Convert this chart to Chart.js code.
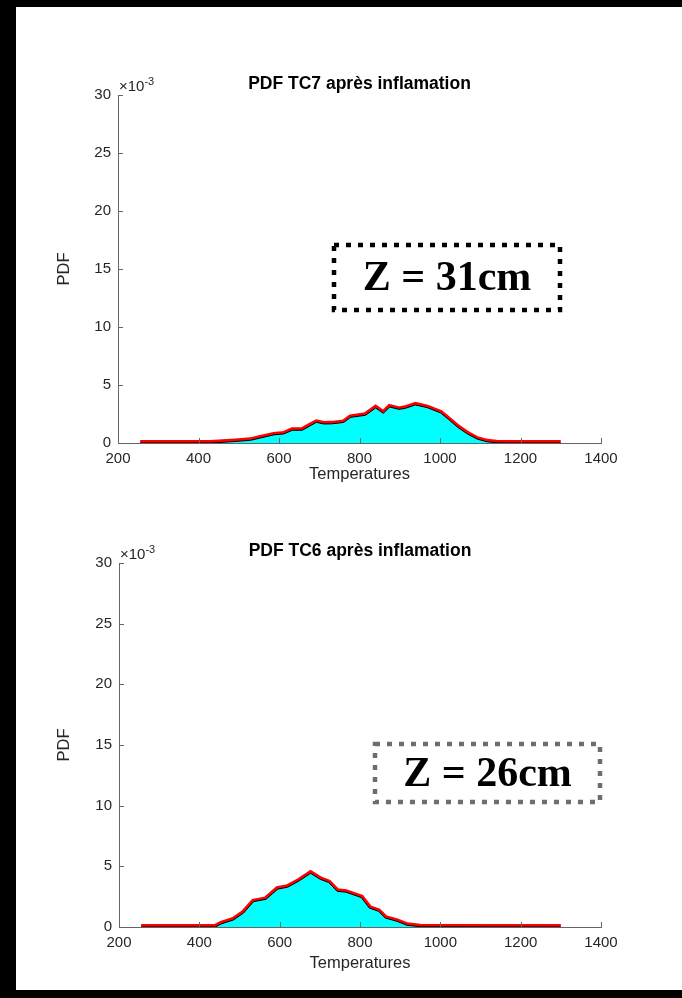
<!DOCTYPE html>
<html>
<head>
<meta charset="utf-8">
<script src="https://cdn.jsdelivr.net/npm/chart.js@4"></script>
<style>
  html, body { margin: 0; padding: 0; background: #fff; }
  #page { position: relative; width: 682px; height: 998px; overflow: hidden; background: #fff; }
  #page canvas { position: absolute; left: 0; }
  .edge { position: absolute; background: #000; }
</style>
</head>
<body>
<div id="page">
  <canvas id="tc7" width="682" height="498" style="top:0"></canvas>
  <canvas id="tc6" width="682" height="500" style="top:498px"></canvas>
  <div class="edge" style="left:0;top:0;width:682px;height:7px"></div>
  <div class="edge" style="left:0;top:0;width:16px;height:998px"></div>
  <div class="edge" style="left:0;top:990px;width:682px;height:8px"></div>
</div>
<script>
// PDF values are in units of 1e-3 (see the x10^-3 note on the axis)
const tempsTC7 = [255, 430, 470, 500, 529, 554, 587, 612, 633, 658, 678, 693, 711, 730, 749, 761, 778, 815, 840, 859, 875, 898, 914, 939, 968, 1001, 1022, 1043, 1068, 1092, 1117, 1140, 1160, 1300];
const pdfTC7 = [0, 0, 0.08, 0.15, 0.23, 0.43, 0.7, 0.78, 1.09, 1.1, 1.49, 1.78, 1.64, 1.65, 1.72, 1.78, 2.21, 2.39, 3.02, 2.56, 3.1, 2.9, 2.99, 3.28, 3.05, 2.6, 2.01, 1.38, 0.78, 0.34, 0.1, 0.03, 0, 0];

const tempsTC6 = [255, 440, 455, 485, 510, 535, 566, 595, 620, 649, 677, 701, 722, 743, 765, 803, 823, 846, 863, 892, 917, 950, 1300];
const pdfTC6 = [0, 0, 0.26, 0.58, 1.15, 2.09, 2.28, 3.12, 3.28, 3.81, 4.42, 3.93, 3.67, 2.94, 2.87, 2.43, 1.57, 1.29, 0.74, 0.47, 0.14, 0.02, 0];

const xTickValues = [200, 400, 600, 800, 1000, 1200, 1400];
const yTickValues = [0, 5, 10, 15, 20, 25, 30];

const AXIS = '#666';
const TEXT = '#262626';
const SANS = '"Liberation Sans", Arial, Helvetica, sans-serif';

// titles, exponent note, axis labels, inward ticks and the depth box
const extras = {
  id: 'extras',
  afterDraw(chart, args, o) {
    const ctx = chart.ctx;
    const a = chart.chartArea;
    const xs = chart.scales.x, ys = chart.scales.y;
    const cx = (a.left + a.right) / 2;
    ctx.save();

    ctx.strokeStyle = AXIS;
    ctx.lineWidth = 1;
    ctx.beginPath();
    xTickValues.forEach(v => {
      const px = Math.round(xs.getPixelForValue(v)) + 0.5;
      ctx.moveTo(px, a.bottom);
      ctx.lineTo(px, a.bottom - 5);
    });
    yTickValues.forEach(v => {
      const py = Math.round(ys.getPixelForValue(v)) + 0.5;
      ctx.moveTo(a.left, py);
      ctx.lineTo(a.left + 5, py);
    });
    ctx.stroke();

    ctx.fillStyle = '#000';
    ctx.textAlign = 'center';
    ctx.textBaseline = 'middle';
    ctx.font = 'bold 17.5px ' + SANS;
    ctx.fillText(o.title, cx, a.top + o.titleDy);

    ctx.fillStyle = TEXT;
    ctx.textAlign = 'left';
    ctx.textBaseline = 'alphabetic';
    ctx.font = '15px ' + SANS;
    ctx.fillText('\u00d710', a.left + 1, a.top - 4);
    const w = ctx.measureText('\u00d710').width;
    ctx.font = '11px ' + SANS;
    ctx.fillText('-3', a.left + 1 + w, a.top - 10);

    ctx.font = '16.5px ' + SANS;
    ctx.textAlign = 'center';
    ctx.textBaseline = 'middle';
    ctx.fillText('Temperatures', cx, a.bottom + o.xLabelDy);
    ctx.save();
    ctx.translate(64, (a.top + a.bottom) / 2);
    ctx.rotate(-Math.PI / 2);
    ctx.fillText('PDF', 0, 0);
    ctx.restore();

    const b = o.box;
    ctx.strokeStyle = b.color;
    ctx.lineWidth = 4.5;
    ctx.setLineDash([5, 7]);
    ctx.strokeRect(b.left, b.top, b.width, b.height);
    ctx.setLineDash([]);
    ctx.fillStyle = '#000';
    ctx.font = 'bold 42px "Liberation Serif", "Times New Roman", serif';
    ctx.fillText(b.text, b.left + b.width / 2, b.top + b.height / 2 + 2);

    ctx.restore();
  }
};

function makeChart(id, temps, pdf, o) {
  const pts = temps.map((t, i) => ({ x: t, y: pdf[i] }));
  const tickFont = { family: SANS, size: 15 };
  return new Chart(document.getElementById(id), {
    type: 'line',
    data: {
      datasets: [{
        data: pts,
        borderColor: '#000',
        borderWidth: 1,
        backgroundColor: '#00ffff',
        fill: 'origin',
        pointRadius: 0,
        tension: 0,
        order: 1
      }, {
        data: pts,
        borderColor: '#ff0000',
        borderWidth: 6,
        fill: false,
        pointRadius: 0,
        tension: 0,
        order: 2
      }]
    },
    options: {
      responsive: false,
      animation: false,
      devicePixelRatio: 1,
      layout: { padding: { left: 0, top: o.top, right: 682 - o.right, bottom: 0 } },
      plugins: {
        legend: { display: false },
        tooltip: { enabled: false },
        extras: o
      },
      scales: {
        x: {
          type: 'linear',
          min: 200,
          max: 1400,
          afterBuildTicks: s => { s.ticks = xTickValues.map(v => ({ value: v })); },
          afterFit: s => { s.height = o.xHeight; },
          ticks: { font: tickFont, color: TEXT, padding: 7, maxRotation: 0, callback: v => String(v) },
          grid: { display: false, drawTicks: false },
          border: { display: true, color: AXIS, width: 1 }
        },
        y: {
          min: 0,
          max: 30,
          afterBuildTicks: s => { s.ticks = yTickValues.map(v => ({ value: v })); },
          afterFit: s => { s.width = o.left; },
          ticks: { font: tickFont, color: TEXT, padding: 7, callback: v => String(v) },
          grid: { display: false, drawTicks: false },
          border: { display: true, color: AXIS, width: 1 }
        }
      }
    },
    plugins: [extras]
  });
}

makeChart('tc7', tempsTC7, pdfTC7, {
  title: 'PDF TC7 apr\u00e8s inflamation',
  titleDy: -11,
  xLabelDy: 31,
  left: 118, right: 601, top: 95, xHeight: 498 - 443,
  box: { left: 334, top: 245, width: 226, height: 65, color: '#000', text: 'Z = 31cm' }
});

makeChart('tc6', tempsTC6, pdfTC6, {
  title: 'PDF TC6 apr\u00e8s inflamation',
  titleDy: -12,
  xLabelDy: 36,
  left: 119, right: 601, top: 65, xHeight: 500 - 429,
  box: { left: 375, top: 246, width: 225, height: 58, color: '#6e6e6e', text: 'Z = 26cm' }
});
</script>
</body>
</html>
